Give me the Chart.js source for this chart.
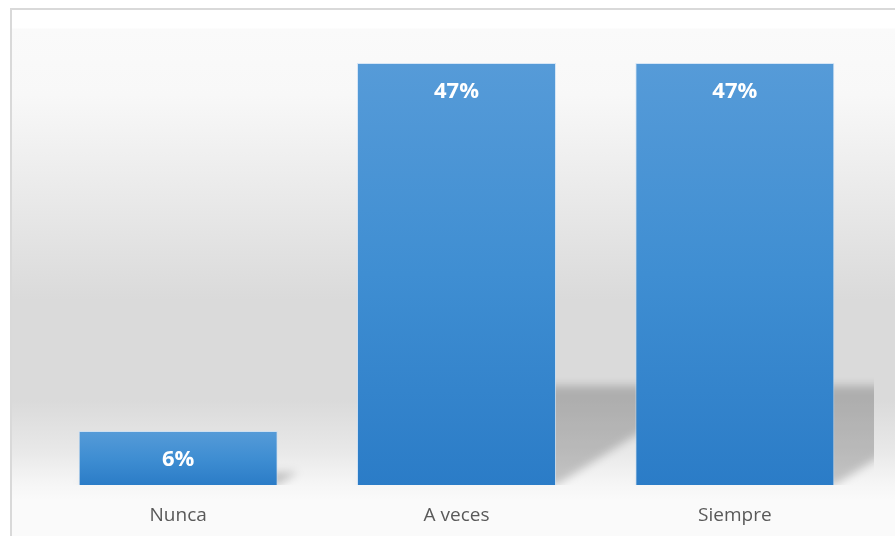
<!DOCTYPE html>
<html>
<head>
<meta charset="utf-8">
<script src="https://cdn.jsdelivr.net/npm/chart.js@4/dist/chart.umd.min.js"></script>
<style>
  html, body { margin: 0; padding: 0; background: #ffffff; }
  #wrap { width: 895px; height: 536px; }
</style>
</head>
<body>
<div id="wrap"><canvas id="c" width="895" height="536"></canvas></div>
<script>
const categories = ["Nunca", "A veces", "Siempre"];
const values = [6, 47, 47];
const valueLabels = ["6%", "47%", "47%"];
const yMax = 50;

const backgroundPlugin = {
  id: 'bgPlugin',
  beforeDraw(chart) {
    const ctx = chart.ctx;
    const W = chart.width, H = chart.height;
    ctx.save();
    ctx.fillStyle = '#ffffff';
    ctx.fillRect(0, 0, W, H);
    const g = ctx.createLinearGradient(0, 0, 0, H);
    const s = (y, c) => g.addColorStop(Math.min(1, Math.max(0, y / H)), c);
    s(10, '#ffffff'); s(28, '#ffffff'); s(29, '#fafafa'); s(95, '#f8f8f8');
    s(130, '#f3f3f3'); s(200, '#e9e9e9'); s(260, '#e0e0e0'); s(300, '#dadada');
    s(400, '#dadada'); s(450, '#e8e8e8'); s(485, '#f6f6f6'); s(500, '#fafafa'); s(536, '#fafafa');
    ctx.fillStyle = g;
    ctx.fillRect(12, 10, W - 12, H - 10);
    ctx.strokeStyle = '#d9d9d9';
    ctx.lineWidth = 2;
    ctx.strokeRect(11, 9, W + 20, H + 20);
    ctx.restore();
  }
};

const shadowPlugin = {
  id: 'shadowPlugin',
  beforeDatasetsDraw(chart) {
    const ctx = chart.ctx;
    const area = chart.chartArea;
    const meta = chart.getDatasetMeta(0);
    ctx.save();
    ctx.beginPath();
    ctx.rect(area.left, area.top, area.right - area.left, area.bottom - area.top);
    ctx.clip();
    ctx.filter = 'blur(4px)';
    ctx.fillStyle = 'rgba(0,0,0,0.2)';
    meta.data.forEach(bar => {
      const p = bar.getProps(['x', 'y', 'base', 'width'], true);
      const hs = (p.base - p.y) * 0.235;
      const dx = hs * 1.6;
      const l = p.x - p.width / 2, r = p.x + p.width / 2;
      ctx.beginPath();
      ctx.moveTo(l, p.base);
      ctx.lineTo(r, p.base);
      ctx.lineTo(r + dx, p.base - hs);
      ctx.lineTo(l + dx, p.base - hs);
      ctx.closePath();
      ctx.fill();
    });
    ctx.restore();
  }
};

const labelPlugin = {
  id: 'labelPlugin',
  afterDatasetsDraw(chart) {
    const ctx = chart.ctx;
    const meta = chart.getDatasetMeta(0);
    ctx.save();
    ctx.fillStyle = '#ffffff';
    ctx.font = 'bold 22px "Open Sans", sans-serif';
    ctx.textAlign = 'center';
    ctx.textBaseline = 'middle';
    meta.data.forEach((bar, i) => {
      const p = bar.getProps(['x', 'y'], true);
      ctx.fillText(valueLabels[i], p.x, p.y + 29);
    });
    ctx.restore();
  }
};

function barGradient(context) {
  const chart = context.chart;
  const area = chart.chartArea;
  if (!area || context.type !== 'data') return '#3f8fd2';
  const ys = chart.scales.y;
  const top = ys.getPixelForValue(context.parsed.y);
  const base = ys.getPixelForValue(0);
  if (!isFinite(top) || !isFinite(base) || base - top < 1) return '#3f8fd2';
  const g = chart.ctx.createLinearGradient(0, top, 0, base);
  g.addColorStop(0, '#569bd8');
  g.addColorStop(0.5, '#3f8ed2');
  g.addColorStop(1, '#2b7cc7');
  return g;
}

new Chart(document.getElementById('c'), {
  type: 'bar',
  data: {
    labels: categories,
    datasets: [{
      data: values,
      backgroundColor: barGradient,
      borderColor: 'rgba(200,222,245,0.7)',
      borderWidth: 1,
      categoryPercentage: 1.0,
      barPercentage: 0.715
    }]
  },
  options: {
    responsive: false,
    animation: false,
    layout: { padding: { left: 39, right: 21, top: 36, bottom: 0 } },
    plugins: { legend: { display: false }, tooltip: { enabled: false } },
    scales: {
      y: { display: false, min: 0, max: yMax },
      x: {
        grid: { display: false, drawTicks: false },
        border: { display: false },
        ticks: { color: '#595959', font: { family: '"Open Sans", sans-serif', size: 19 }, padding: 19 },
        afterFit(scale) { scale.height = 51; }
      }
    }
  },
  plugins: [backgroundPlugin, shadowPlugin, labelPlugin]
});
</script>
</body>
</html>
